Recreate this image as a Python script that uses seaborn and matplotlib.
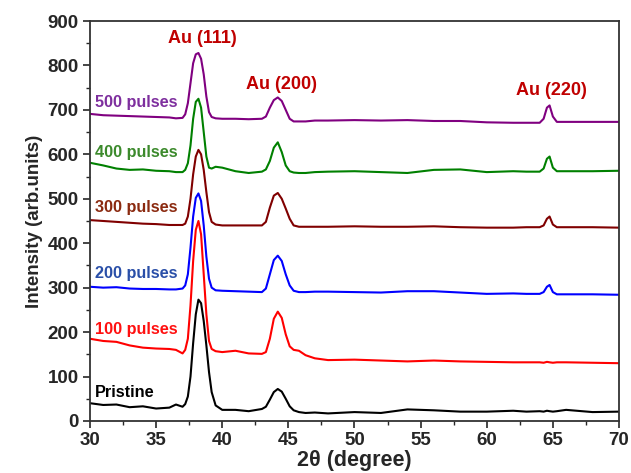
import matplotlib
matplotlib.use("Agg")
import matplotlib.pyplot as plt
import seaborn as sns
from matplotlib.ticker import MultipleLocator

two_theta = [30, 31, 32, 33, 34, 35, 36, 36.5,
             37.0, 37.2, 37.4, 37.6, 37.8, 38.0, 38.2, 38.4, 38.6, 38.8, 39.0, 39.2, 39.5,
             40, 41, 42,
             43.0, 43.3, 43.6, 43.9, 44.2, 44.5, 44.8, 45.1, 45.4, 45.8,
             46.3, 47, 48, 50, 52, 54, 56, 58, 60, 62, 63,
             64.0, 64.3, 64.55, 64.75, 65.0, 65.3,
             66, 68, 70]

pristine = [40, 36, 37, 31, 33, 28, 30, 37,
            32, 38, 55, 100, 175, 240, 273, 265, 225, 170, 110, 65, 35,
            25, 25, 22,
            27, 32, 48, 65, 72, 66, 50, 33, 24, 20,
            18, 19, 17, 20, 18, 26, 24, 21, 21, 23, 21,
            22, 21, 23, 22, 21, 22,
            25, 20, 21]

p100 = [185, 180, 178, 170, 165, 163, 162, 160,
        152, 160, 185, 260, 360, 430, 450, 420, 330, 240, 180, 162, 157,
        155, 158, 152,
        151, 155, 185, 230, 246, 232, 195, 168, 160, 158,
        148, 141, 137, 138, 136, 134, 136, 134, 133, 132, 132,
        132, 131, 133, 132, 131, 132,
        132, 131, 130]

p200 = [302, 300, 301, 298, 297, 297, 296, 296,
        298, 305, 330, 390, 460, 502, 512, 495, 440, 370, 320, 300, 294,
        293, 292, 291,
        290, 298, 330, 362, 372, 360, 330, 305, 293, 290,
        290, 291, 291, 290, 289, 292, 292, 289, 286, 287, 286,
        286, 290, 302, 306, 290, 285,
        285, 285, 284]

p300 = [452, 450, 448, 446, 444, 443, 441, 441,
        441, 444, 460, 500, 555, 595, 610, 600, 565, 515, 470, 448, 442,
        440, 440, 440,
        440, 448, 480, 507, 513, 500, 478, 455, 440, 437,
        437, 437, 437, 438, 437, 437, 438, 436, 435, 435, 436,
        436, 440, 455, 460, 442, 436,
        436, 436, 435]

p400 = [581, 575, 568, 565, 566, 563, 562, 560,
        560, 565, 580, 620, 680, 718, 725, 705, 650, 595, 570, 568, 572,
        570, 562, 558,
        561, 566, 585, 615, 627, 605, 575, 562, 559, 558,
        558, 560, 561, 562, 560, 558, 565, 566, 560, 562, 561,
        561, 568, 590, 595, 570, 562,
        562, 562, 563]

p500 = [691, 688, 687, 686, 685, 684, 683, 681,
        682, 690, 715, 760, 805, 825, 828, 815, 780, 730, 695, 684, 681,
        680, 680, 679,
        680, 685, 705, 722, 728, 720, 700, 680, 674, 674,
        674, 676, 676, 677, 676, 677, 675, 675, 672, 671, 671,
        671, 680, 705, 710, 685, 673,
        673, 673, 673]

series_names = ["Pristine", "100 pulses", "200 pulses", "300 pulses", "400 pulses", "500 pulses"]
series_values = [pristine, p100, p200, p300, p400, p500]
line_colors = ["#000000", "#FF0000", "#0000FF", "#800000", "#008000", "#800080"]
label_colors = ["#000000", "#FF1010", "#2A4FA8", "#8B2A10", "#3C8A2C", "#7E2F9E"]
label_y = [63, 205, 331, 480, 603, 716]

peak_labels = ["Au (111)", "Au (200)", "Au (220)"]
peak_x = [38.5, 44.5, 64.9]
peak_y = [860, 757, 743]

sns.set_style("ticks")
plt.rcParams["font.family"] = ["Liberation Sans", "DejaVu Sans"]

fig = plt.figure(figsize=(6.31, 4.73), dpi=100)
ax = fig.add_axes([0.1426, 0.11, 0.8384, 0.8456])

for name, vals, col in zip(series_names, series_values, line_colors):
    sns.lineplot(x=two_theta, y=vals, color=col, linewidth=1.5, ax=ax)

for name, ly, col in zip(series_names, label_y, label_colors):
    ax.text(30.4, ly, name, color=col, fontsize=11.7, fontweight="bold",
            ha="left", va="center")

for lab, px, py in zip(peak_labels, peak_x, peak_y):
    ax.text(px, py, lab, color="#C00000", fontsize=13, fontweight="bold",
            ha="center", va="center")

ax.set_xlim(30, 70)
ax.set_ylim(0, 900)
ax.xaxis.set_major_locator(MultipleLocator(5))
ax.xaxis.set_minor_locator(MultipleLocator(2.5))
ax.yaxis.set_major_locator(MultipleLocator(100))
ax.yaxis.set_minor_locator(MultipleLocator(50))
ax.tick_params(which="major", direction="out", length=5, width=1.2, labelsize=13.5, pad=3)
ax.tick_params(which="minor", direction="out", length=3, width=1.0)
for lbl in ax.get_xticklabels() + ax.get_yticklabels():
    lbl.set_fontweight("bold")
for sp in ax.spines.values():
    sp.set_visible(True)
    sp.set_linewidth(1.3)
    sp.set_color("#333333")

ax.set_xlabel("2θ (degree)", fontsize=15.5, fontweight="bold", labelpad=1)
ax.set_ylabel("Intensity (arb.units)", fontsize=13.5, fontweight="bold", labelpad=3)

fig.savefig("out.png", dpi=100)
